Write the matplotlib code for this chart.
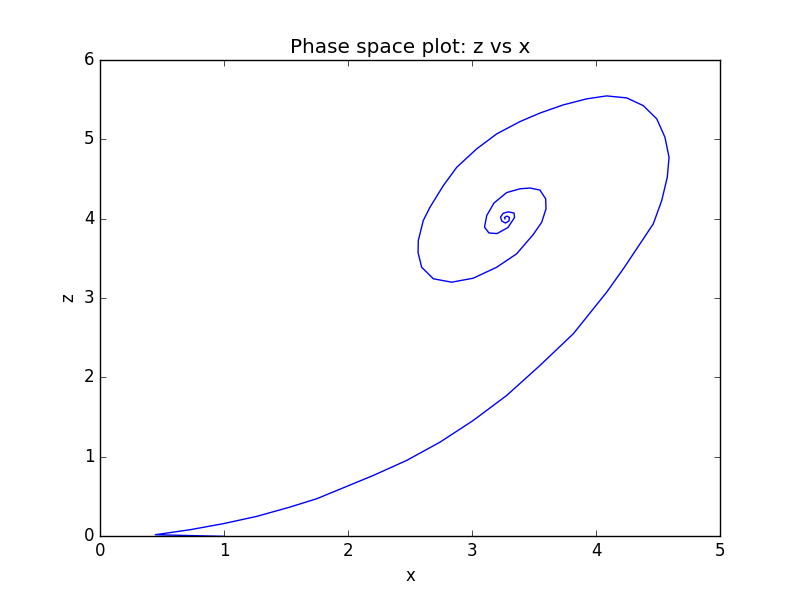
import matplotlib
matplotlib.use("Agg")
import matplotlib.pyplot as plt

# trajectory points (x, z)
x = [1.0, 0.446, 0.726, 0.994, 1.264, 1.532, 1.748, 1.935, 2.204, 2.473,
     2.742, 3.010, 3.280, 3.548, 3.817, 4.086, 4.222, 4.355, 4.462, 4.530,
     4.575, 4.589, 4.556, 4.490, 4.381, 4.248, 4.086, 3.925, 3.736, 3.548,
     3.387, 3.199, 3.038, 2.877, 2.769, 2.661, 2.607, 2.567, 2.565, 2.594,
     2.688, 2.836, 3.010, 3.199, 3.360, 3.494, 3.562, 3.597, 3.594, 3.548,
     3.468, 3.387, 3.280, 3.177, 3.119, 3.101, 3.137, 3.202, 3.290, 3.343,
     3.339, 3.293, 3.252, 3.230, 3.240, 3.270, 3.298, 3.302, 3.282, 3.262,
     3.266]
z = [0.0, 0.021, 0.084, 0.160, 0.252, 0.369, 0.474, 0.594, 0.767, 0.956,
     1.186, 1.459, 1.774, 2.151, 2.550, 3.073, 3.371, 3.682, 3.933, 4.226,
     4.520, 4.771, 5.023, 5.254, 5.421, 5.518, 5.543, 5.506, 5.430, 5.327,
     5.220, 5.065, 4.877, 4.645, 4.415, 4.142, 3.975, 3.723, 3.572, 3.387,
     3.242, 3.199, 3.249, 3.387, 3.556, 3.799, 3.953, 4.122, 4.248, 4.358,
     4.384, 4.374, 4.327, 4.195, 4.038, 3.891, 3.818, 3.811, 3.887, 4.013,
     4.069, 4.084, 4.067, 4.019, 3.969, 3.943, 3.969, 4.013, 4.031, 4.013,
     3.996]

plt.style.use('classic')
fig = plt.figure(figsize=(8, 5.96), dpi=100)
ax = fig.add_subplot(111)
ax.plot(x, z, 'b-')
ax.set_xlim(0, 5)
ax.set_ylim(0, 6)
ax.set_xlabel('x')
ax.set_ylabel('z')
ax.set_title('Phase space plot: z vs x')
fig.savefig('out.png', dpi=100)
